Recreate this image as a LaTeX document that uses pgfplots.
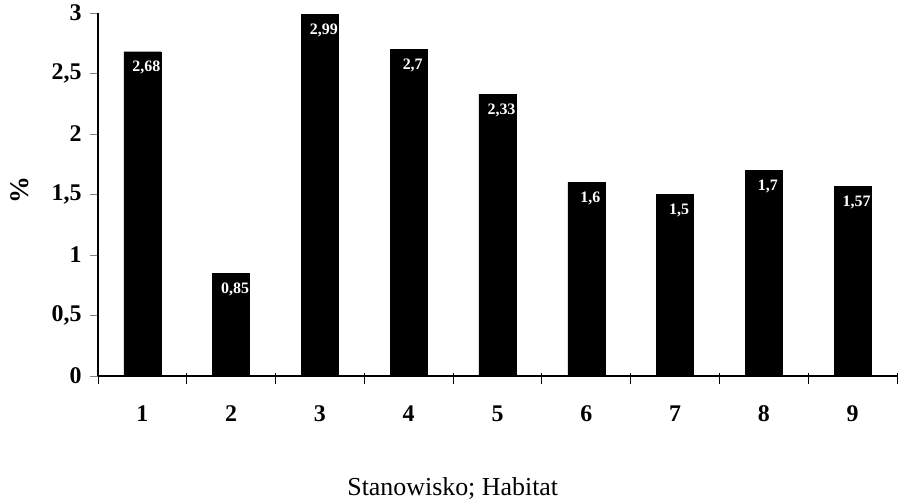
\documentclass[border=0pt]{standalone}
\usepackage{fontspec}
\setmainfont{Liberation Serif}
\usepackage{pgfplots}
\pgfplotsset{compat=1.18}
\begin{document}
\begin{tikzpicture}
\begin{axis}[
  at={(0,0)}, anchor=south west,
  scale only axis,
  width=799bp, height=363bp,
  xmin=0.5, xmax=9.5,
  ymin=0, ymax=3,
  axis lines=left,
  axis line style={-, line width=1.2pt},
  xtick={1,...,9},
  minor xtick={0.5,1.5,...,9.5},
  ytick={0,0.5,...,3},
  x tick style={draw=none},
  minor x tick style={draw=black, line width=1pt},
  minor tick length=11bp,
  every minor tick/.style={yshift=3bp},
  y tick style={line width=1pt},
  major tick length=8bp,
  tick align=outside,
  ticklabel style={font=\fontsize{24}{26}\selectfont\bfseries},
  /pgf/number format/use comma,
  /pgf/number format/assume math mode=true,
  xticklabel style={yshift=-18bp},
  yticklabel style={xshift=-5bp},
  xlabel={Stanowisko; Habitat},
  xlabel style={font=\fontsize{26}{28}\selectfont, at={(axis description cs:0.444,-0.309)}, anchor=center},
  ylabel={\%},
  ylabel style={font=\fontsize{27}{29}\selectfont\bfseries, at={(axis description cs:-0.098,0.512)}, anchor=center},
  ybar, bar width=37bp,
  nodes near coords,
  every node near coord/.append style={font=\fontsize{16}{17}\selectfont\bfseries, text=white, anchor=north, yshift=-6bp, xshift=4bp,
    /pgf/number format/use comma, /pgf/number format/assume math mode=true},
  clip=false,
]
\addplot[fill=black, draw=black] coordinates {
 (1,2.68) (2,0.85) (3,2.99) (4,2.7) (5,2.33) (6,1.6) (7,1.5) (8,1.7) (9,1.57)
};
\end{axis}
\pgfresetboundingbox
\useasboundingbox (-98bp,-128bp) rectangle (807bp,376bp);
\end{tikzpicture}
\end{document}
